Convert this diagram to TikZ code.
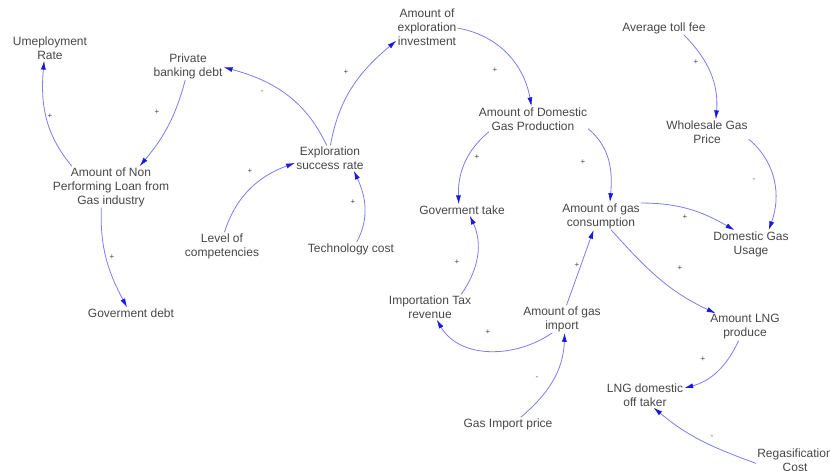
\documentclass[tikz,border=0pt]{standalone}
\usepackage{fontspec}
\setmainfont{Liberation Sans}
\usetikzlibrary{arrows.meta}
\definecolor{linkline}{RGB}{125,125,235}
\definecolor{linkhead}{RGB}{25,25,225}
\definecolor{labeltext}{RGB}{70,70,70}
\begin{document}
\begin{tikzpicture}[x=1pt,y=1pt,
  var/.style={align=center, inner sep=1pt, text=labeltext, font=\fontsize{12}{14}\selectfont},
  link/.style={draw=linkline, line width=0.8pt, -{Latex[length=9pt,width=5pt,color=linkhead]}},
  sign/.style={text=labeltext, font=\fontsize{8}{8}\selectfont, inner sep=0pt}]
\useasboundingbox (0,0) rectangle (830,471);

% variables
\node[var] (un)   at (50,423)  {Umeployment\\Rate};
\node[var] (pbd)  at (188,405) {Private\\banking debt};
\node[var] (npl)  at (111,284) {Amount of Non\\Performing Loan from\\Gas industry};
\node[var] (gd)   at (131,158) {Goverment debt};
\node[var] (aei)  at (427,444) {Amount of\\exploration\\investment};
\node[var] (esr)  at (330,313) {Exploration\\success rate};
\node[var] (loc)  at (222,225) {Level of\\competencies};
\node[var] (tc)   at (351,222) {Technology cost};
\node[var] (adgp) at (533,352) {Amount of Domestic\\Gas Production};
\node[var] (atf)  at (664,443) {Average toll fee};
\node[var] (wgp)  at (707,339) {Wholesale Gas\\Price};
\node[var] (gt)   at (462,261) {Goverment take};
\node[var] (agc)  at (601,255) {Amount of gas\\consumption};
\node[var] (dgu)  at (751,227) {Domestic Gas\\Usage};
\node[var] (itr)  at (430,164) {Importation Tax\\revenue};
\node[var] (agi)  at (562,152) {Amount of gas\\import};
\node[var] (lng)  at (745,144) {Amount LNG\\produce};
\node[var] (off)  at (645,76)  {LNG domestic\\off taker};
\node[var] (gip)  at (508,47)  {Gas Import price};
\node[var] (reg)  at (795,11)  {Regasification\\Cost};

% causal links
\draw[link] (npl.152) to[out=130,in=265] (un.245);
\draw[link] (pbd.259) to[out=255,in=50] (npl.36);
\draw[link] (npl.245) to[out=268,in=118] (gd.125);
\draw[link] (esr.105) to[out=115,in=345] (pbd.-2);
\draw[link] (esr.88) to[out=80,in=220] (aei.204);
\draw[link] (loc.80) to[out=72,in=200] (esr.188);
\draw[link] (tc.50) to[out=62,in=295] (esr.332);
\draw[link] (aei.-2) to[out=-10,in=100] (adgp.97);
\draw[link] (atf.-19) to[out=-45,in=85] (wgp.55);
\draw[link] (adgp.196) to[out=220,in=92] (gt.120);
\draw[link] (adgp.-10) to[out=-40,in=85] (agc.57);
\draw[link] (wgp.-10) to[out=-40,in=70] (dgu.38);
\draw[link] (agc.18) to[out=0,in=150] (dgu.140);
\draw[link] (agc.-54) to[out=-48,in=155] (lng.155);
\draw[link] (agi.72) to[out=70,in=250] (agc.242);
\draw[link] (agi.235) to[out=215,in=300] (itr.-62);
\draw[link] (itr.22) to[out=55,in=295] (gt.-36);
\draw[link] (gip.28) to[out=40,in=268] (agi.-79);
\draw[link] (lng.245) to[out=245,in=15] (off.10);
\draw[link] (reg.185) to[out=160,in=-40] (off.304);

% polarity signs
\node[sign] (s1)  at (50,355)  {+};
\node[sign] (s2)  at (157,359) {+};
\node[sign] (s3)  at (112,214) {+};
\node[sign] (s4)  at (262,379) {-};
\node[sign] (s5)  at (346,399) {+};
\node[sign] (s6)  at (250,300) {+};
\node[sign] (s7)  at (353,269) {+};
\node[sign] (s8)  at (495,401) {+};
\node[sign] (s9)  at (696,409) {+};
\node[sign] (s10) at (477,314) {+};
\node[sign] (s11) at (583,309) {+};
\node[sign] (s12) at (754,291) {-};
\node[sign] (s13) at (685,254) {+};
\node[sign] (s14) at (680,203) {+};
\node[sign] (s15) at (577,206) {+};
\node[sign] (s16) at (488,139) {+};
\node[sign] (s17) at (457,209) {+};
\node[sign] (s18) at (537,93)  {-};
\node[sign] (s19) at (703,112) {+};
\node[sign] (s20) at (712,34)  {-};
\end{tikzpicture}
\end{document}
